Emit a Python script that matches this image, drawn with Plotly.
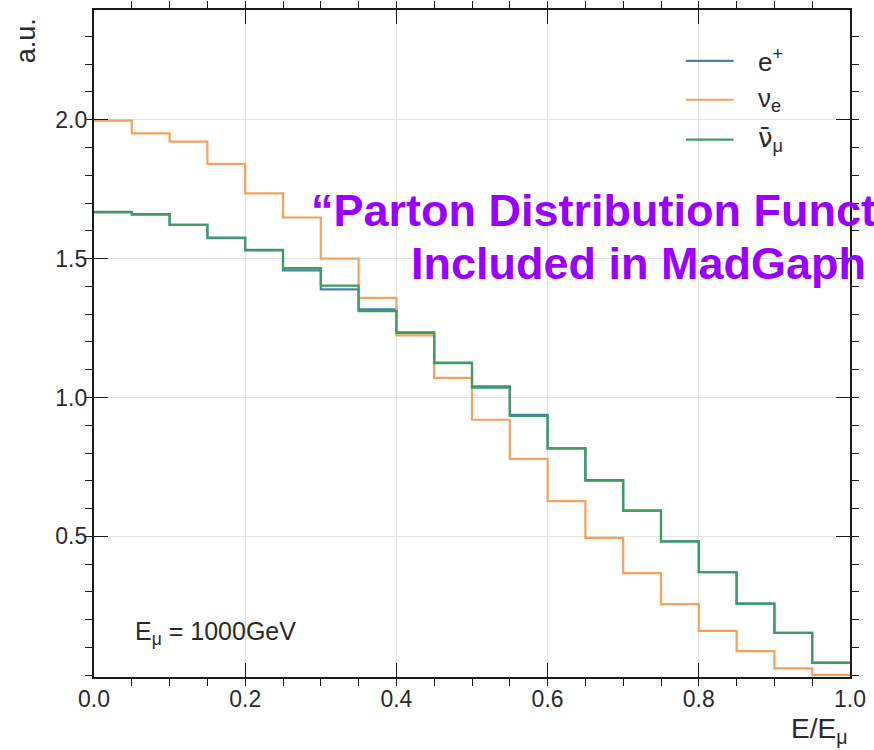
import plotly.graph_objects as go

# ---- data ----
bin_lo = [0.00, 0.05, 0.10, 0.15, 0.20, 0.25, 0.30, 0.35, 0.40, 0.45,
          0.50, 0.55, 0.60, 0.65, 0.70, 0.75, 0.80, 0.85, 0.90, 0.95]
x_max = 1.0

e_plus = [1.668, 1.660, 1.622, 1.576, 1.530, 1.458, 1.389, 1.317, 1.235, 1.126,
          1.040, 0.938, 0.817, 0.703, 0.593, 0.482, 0.371, 0.258, 0.153, 0.046]
nu_e = [1.997, 1.951, 1.921, 1.841, 1.735, 1.648, 1.500, 1.359, 1.224, 1.071,
        0.920, 0.779, 0.627, 0.495, 0.368, 0.256, 0.160, 0.087, 0.025, 0.002]
nubar_mu = [1.666, 1.658, 1.622, 1.574, 1.532, 1.466, 1.403, 1.311, 1.233, 1.124,
            1.036, 0.934, 0.817, 0.701, 0.593, 0.482, 0.371, 0.258, 0.153, 0.045]

series_names = ["e<sup>+</sup>", "ν<sub>e</sub>",
                "<span style='font-family:DejaVu Sans'>ν\u0304</span><sub>μ</sub>"]
series_vals = [e_plus, nu_e, nubar_mu]
colors = ["#4a80b0", "#f2a25c", "#3f9b60"]

x_ticks = [0.0, 0.2, 0.4, 0.6, 0.8, 1.0]
x_ticklabels = ["0.0", "0.2", "0.4", "0.6", "0.8", "1.0"]
y_ticks = [0.5, 1.0, 1.5, 2.0]
y_ticklabels = ["0.5", "1.0", "1.5", "2.0"]

FONT = "Liberation Sans, Arial, Helvetica, sans-serif"
TXT = "#2a2a2a"

fig = go.Figure()
for name, vals, col in zip(series_names, series_vals, colors):
    xs = list(bin_lo) + [x_max]
    ys = list(vals) + [vals[-1]]
    fig.add_trace(go.Scatter(x=xs, y=ys, mode="lines", line_shape="hv",
                             line=dict(color=col, width=2.2), name=name,
                             showlegend=False, hoverinfo="skip"))

axis_common = dict(
    showline=True, linecolor="#1a1a1a", linewidth=2.2, mirror="allticks",
    ticks="inside", ticklen=14, tickwidth=1.3, tickcolor="#1a1a1a",
    showgrid=True, gridcolor="#e3e3e3", gridwidth=1, zeroline=False,
    tickfont=dict(family=FONT, size=23, color=TXT),
)

fig.update_xaxes(range=[0, 1.0], tickmode="array", tickvals=x_ticks,
                 ticktext=x_ticklabels,
                 minor=dict(tickmode="linear", tick0=0, dtick=0.05, ticklen=7,
                            tickcolor="#1a1a1a", tickwidth=1.2, showgrid=False),
                 **axis_common)
fig.update_yaxes(range=[-0.006, 2.395], tickmode="array", tickvals=y_ticks,
                 ticktext=y_ticklabels,
                 minor=dict(tickmode="linear", tick0=0, dtick=0.1, ticklen=7,
                            tickcolor="#1a1a1a", tickwidth=1.2, showgrid=False),
                 **axis_common)

# legend drawn manually (line samples + labels)
leg_rows_y = [59, 98, 138]
def px_x(p):
    return (p - 94) / 760
def px_y(p):
    return (677 - p) / 669

shapes = []
annotations = []
for name, col, ry in zip(series_names, colors, leg_rows_y):
    shapes.append(dict(type="line", xref="paper", yref="paper",
                       x0=px_x(689), x1=px_x(737), y0=px_y(ry), y1=px_y(ry),
                       line=dict(color=col, width=2.2)))
    annotations.append(dict(xref="paper", yref="paper", x=px_x(759), y=px_y(ry),
                            xanchor="left", yanchor="middle", showarrow=False,
                            text=name, font=dict(family=FONT, size=26, color=TXT)))

# axis titles
annotations.append(dict(xref="paper", yref="paper", x=px_x(26), y=px_y(39),
                        xanchor="center", yanchor="middle", showarrow=False,
                        textangle=-90, text="a.u.",
                        font=dict(family=FONT, size=27, color=TXT)))
annotations.append(dict(xref="paper", yref="paper", x=px_x(853), y=px_y(731),
                        xanchor="right", yanchor="middle", showarrow=False,
                        text="E/E<sub>μ</sub>",
                        font=dict(family=FONT, size=28, color=TXT)))
# energy label
annotations.append(dict(xref="paper", yref="paper", x=px_x(133), y=px_y(633),
                        xanchor="left", yanchor="middle", showarrow=False,
                        text="E<sub>μ</sub> = 1000GeV",
                        font=dict(family=FONT, size=25, color=TXT)))
# purple overlay text (cut by the right edge, as in the reference)
annotations.append(dict(xref="paper", yref="paper", x=px_x(310), y=px_y(209),
                        xanchor="left", yanchor="middle", showarrow=False,
                        text="<b>\u201cParton Distribution Funct</b>",
                        font=dict(family=FONT, size=45, color="#9900ff")))
annotations.append(dict(xref="paper", yref="paper", x=px_x(411), y=px_y(262),
                        xanchor="left", yanchor="middle", showarrow=False,
                        text="<b>Included in MadGaph</b>",
                        font=dict(family=FONT, size=45, color="#9900ff")))

fig.update_layout(
    width=874, height=750,
    margin=dict(l=94, r=20, t=8, b=73),
    paper_bgcolor="white", plot_bgcolor="white",
    showlegend=False,
    shapes=shapes, annotations=annotations,
)

fig.write_html("out.html")
